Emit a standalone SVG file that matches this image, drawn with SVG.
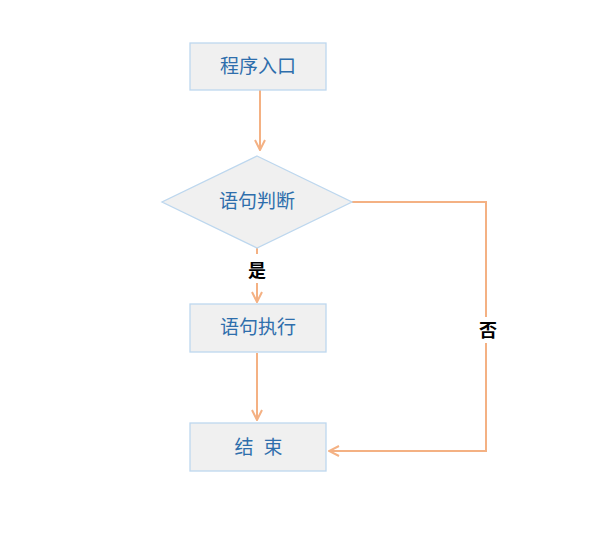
<svg xmlns="http://www.w3.org/2000/svg" width="597" height="543" viewBox="0 0 597 543">
<defs>
<style>
.node{fill:#f0f0f0;stroke:#bdd7ee;stroke-width:1.3}
.t{font-family:"Noto Sans CJK SC","Noto Sans CJK JP",sans-serif;font-size:19px;fill:#2e6eac;text-anchor:middle}
.lbl{font-family:"Noto Sans CJK SC","Noto Sans CJK JP",sans-serif;font-size:18px;font-weight:bold;fill:#000;text-anchor:middle}
.c{fill:none;stroke:#f4b183;stroke-width:2}
</style>
<marker id="ah" viewBox="0 0 12 12" refX="11" refY="6" markerWidth="12" markerHeight="12" markerUnits="userSpaceOnUse" orient="auto">
<path d="M1,1 L11,6 L1,11" fill="none" stroke="#f4b183" stroke-width="2"/>
</marker>
</defs>
<rect width="597" height="543" fill="#fff"/>
<g id="connectors">
<line class="c" x1="260" y1="90" x2="260" y2="150" marker-end="url(#ah)"/>
<line class="c" x1="257" y1="248" x2="257" y2="254"/>
<line class="c" x1="257" y1="283" x2="257" y2="302" marker-end="url(#ah)"/>
<line class="c" x1="257" y1="353" x2="257" y2="420" marker-end="url(#ah)"/>
<polyline class="c" points="352,202 486,202 486,317"/>
<polyline class="c" points="486,343 486,451 329,451" marker-end="url(#ah)"/>
<text class="lbl" x="257" y="277">是</text>
<text class="lbl" x="488" y="337">否</text>
</g>
<g id="start">
<rect class="node" x="190" y="43" width="136" height="47"/>
<text class="t" x="258" y="73">程序入口</text>
</g>
<g id="decision">
<polygon class="node" points="257,156 352,202 257,248 162,202"/>
<text class="t" x="257" y="208">语句判断</text>
</g>
<g id="exec">
<rect class="node" x="190" y="304" width="136" height="48"/>
<text class="t" x="258" y="334">语句执行</text>
</g>
<g id="end">
<rect class="node" x="190" y="423" width="136" height="48"/>
<text class="t" x="244" y="454">结</text>
<text class="t" x="273" y="454">束</text>
</g>
</svg>
